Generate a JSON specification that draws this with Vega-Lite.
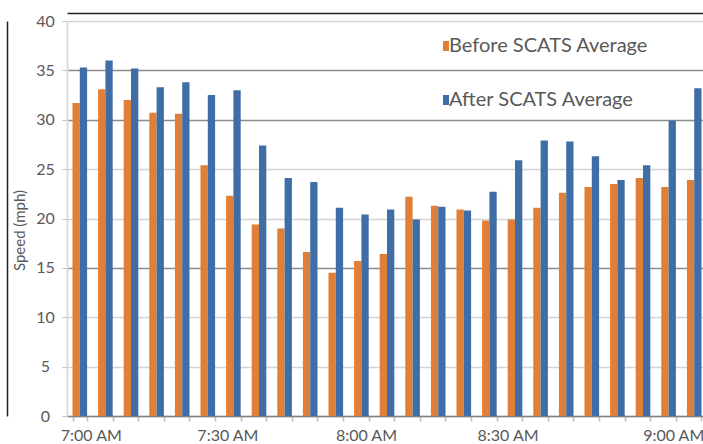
{
  "$schema": "https://vega.github.io/schema/vega-lite/v6.json",
  "autosize": {"type": "none"},
  "padding": {"left": 67, "top": 21, "right": 0, "bottom": 28},
  "width": 640,
  "height": 395,
  "config": {
    "font": "Lato",
    "view": {"stroke": null},
    "background": "#ffffff"
  },
  "data": {"values": [
    {"time": "7:00 AM", "series": "Before SCATS Average", "speed": 31.7},
    {"time": "7:00 AM", "series": "After SCATS Average", "speed": 35.3},
    {"time": "7:05 AM", "series": "Before SCATS Average", "speed": 33.1},
    {"time": "7:05 AM", "series": "After SCATS Average", "speed": 36.0},
    {"time": "7:10 AM", "series": "Before SCATS Average", "speed": 32.0},
    {"time": "7:10 AM", "series": "After SCATS Average", "speed": 35.2},
    {"time": "7:15 AM", "series": "Before SCATS Average", "speed": 30.7},
    {"time": "7:15 AM", "series": "After SCATS Average", "speed": 33.3},
    {"time": "7:20 AM", "series": "Before SCATS Average", "speed": 30.6},
    {"time": "7:20 AM", "series": "After SCATS Average", "speed": 33.8},
    {"time": "7:25 AM", "series": "Before SCATS Average", "speed": 25.4},
    {"time": "7:25 AM", "series": "After SCATS Average", "speed": 32.5},
    {"time": "7:30 AM", "series": "Before SCATS Average", "speed": 22.3},
    {"time": "7:30 AM", "series": "After SCATS Average", "speed": 33.0},
    {"time": "7:35 AM", "series": "Before SCATS Average", "speed": 19.4},
    {"time": "7:35 AM", "series": "After SCATS Average", "speed": 27.4},
    {"time": "7:40 AM", "series": "Before SCATS Average", "speed": 19.0},
    {"time": "7:40 AM", "series": "After SCATS Average", "speed": 24.1},
    {"time": "7:45 AM", "series": "Before SCATS Average", "speed": 16.6},
    {"time": "7:45 AM", "series": "After SCATS Average", "speed": 23.7},
    {"time": "7:50 AM", "series": "Before SCATS Average", "speed": 14.5},
    {"time": "7:50 AM", "series": "After SCATS Average", "speed": 21.1},
    {"time": "7:55 AM", "series": "Before SCATS Average", "speed": 15.7},
    {"time": "7:55 AM", "series": "After SCATS Average", "speed": 20.4},
    {"time": "8:00 AM", "series": "Before SCATS Average", "speed": 16.4},
    {"time": "8:00 AM", "series": "After SCATS Average", "speed": 20.9},
    {"time": "8:05 AM", "series": "Before SCATS Average", "speed": 22.2},
    {"time": "8:05 AM", "series": "After SCATS Average", "speed": 19.9},
    {"time": "8:10 AM", "series": "Before SCATS Average", "speed": 21.3},
    {"time": "8:10 AM", "series": "After SCATS Average", "speed": 21.2},
    {"time": "8:15 AM", "series": "Before SCATS Average", "speed": 20.9},
    {"time": "8:15 AM", "series": "After SCATS Average", "speed": 20.8},
    {"time": "8:20 AM", "series": "Before SCATS Average", "speed": 19.8},
    {"time": "8:20 AM", "series": "After SCATS Average", "speed": 22.7},
    {"time": "8:25 AM", "series": "Before SCATS Average", "speed": 19.9},
    {"time": "8:25 AM", "series": "After SCATS Average", "speed": 25.9},
    {"time": "8:30 AM", "series": "Before SCATS Average", "speed": 21.1},
    {"time": "8:30 AM", "series": "After SCATS Average", "speed": 27.9},
    {"time": "8:35 AM", "series": "Before SCATS Average", "speed": 22.6},
    {"time": "8:35 AM", "series": "After SCATS Average", "speed": 27.8},
    {"time": "8:40 AM", "series": "Before SCATS Average", "speed": 23.2},
    {"time": "8:40 AM", "series": "After SCATS Average", "speed": 26.3},
    {"time": "8:45 AM", "series": "Before SCATS Average", "speed": 23.5},
    {"time": "8:45 AM", "series": "After SCATS Average", "speed": 23.9},
    {"time": "8:50 AM", "series": "Before SCATS Average", "speed": 24.1},
    {"time": "8:50 AM", "series": "After SCATS Average", "speed": 25.4},
    {"time": "8:55 AM", "series": "Before SCATS Average", "speed": 23.2},
    {"time": "8:55 AM", "series": "After SCATS Average", "speed": 29.9},
    {"time": "9:00 AM", "series": "Before SCATS Average", "speed": 23.9},
    {"time": "9:00 AM", "series": "After SCATS Average", "speed": 33.2}
  ]},
  "resolve": {"axis": {"x": "independent", "y": "independent"}},
  "layer": [
    {
      "mark": {"type": "bar"},
      "encoding": {
        "x": {
          "field": "time", "type": "nominal", "sort": null,
          "scale": {"paddingInner": 0.43, "paddingOuter": 0.215},
          "axis": {
            "orient": "bottom",
            "title": null,
            "labelAngle": 0,
            "labelFontSize": 16,
            "labelColor": "#595959",
            "labelPadding": 6,
            "labelOverlap": false,
            "labelExpr": "indexof(['7:00 AM','7:30 AM','8:00 AM','8:30 AM','9:00 AM'], datum.value) >= 0 ? datum.value : ''",
            "labelOffset": {"condition": [
              {"test": "datum.value === '7:00 AM'", "value": 11},
              {"test": "datum.value === '7:30 AM'", "value": -6},
              {"test": "datum.value === '8:00 AM'", "value": -21},
              {"test": "datum.value === '8:30 AM'", "value": -33},
              {"test": "datum.value === '9:00 AM'", "value": -21}
            ], "value": 0},
            "tickBand": "extent",
            "tickSize": 5,
            "tickColor": "#bfbfbf",
            "tickWidth": 1.5,
            "domainColor": "#808080",
            "domainWidth": 1.5,
            "grid": false
          }
        },
        "xOffset": {"field": "series", "type": "nominal", "sort": ["Before SCATS Average", "After SCATS Average"], "scale": {"paddingInner": 0, "paddingOuter": 0}},
        "y": {
          "field": "speed", "type": "quantitative",
          "scale": {"domain": [0, 40], "nice": false},
          "axis": {
            "orient": "left",
            "values": [0, 5, 10, 15, 20, 25, 30, 35, 40],
            "title": "Speed (mph)",
            "titleFontSize": 15,
            "titleFontWeight": "normal",
            "titleColor": "#595959",
            "titleX": -40,
            "titleY": 209,
            "labelFontSize": 16,
            "labelColor": "#595959",
            "labelAlign": "center",
            "labelPadding": 17,
            "tickSize": 5,
            "tickColor": "#bfbfbf",
            "domainColor": "#dcdcdc",
            "domainWidth": 2,
            "grid": true,
            "gridWidth": 1.5,
            "gridColor": {"condition": {"test": "datum.value == 15 || datum.value == 30 || datum.value == 35", "value": "#8c8c8c"}, "value": "#d4d4d4"}
          }
        },
        "color": {
          "field": "series", "type": "nominal",
          "scale": {"domain": ["Before SCATS Average", "After SCATS Average"], "range": ["#DF7F38", "#3F6EA6"]},
          "legend": {
            "title": null,
            "orient": "none",
            "legendX": 369,
            "legendY": 15,
            "direction": "vertical",
            "padding": 0,
            "rowPadding": 34,
            "symbolType": "M-0.6,-1H0.6V1H-0.6Z",
            "symbolSize": 100,
            "symbolStrokeWidth": 0,
            "labelFontSize": 20,
            "labelColor": "#595959",
            "labelOffset": -7,
            "labelLimit": 400
          }
        }
      }
    },
    {
      "mark": {"type": "point", "opacity": 0},
      "encoding": {
        "x": {
          "field": "time", "type": "nominal", "sort": null,
          "axis": {"orient": "top", "offset": 8, "labels": false, "ticks": false, "grid": false, "title": null, "domainColor": "#222222", "domainWidth": 1.5}
        },
        "y": {
          "field": "speed", "type": "quantitative",
          "axis": {"orient": "left", "offset": 60, "labels": false, "ticks": false, "grid": false, "title": null, "domainColor": "#222222", "domainWidth": 1.5}
        }
      }
    }
  ]
}
